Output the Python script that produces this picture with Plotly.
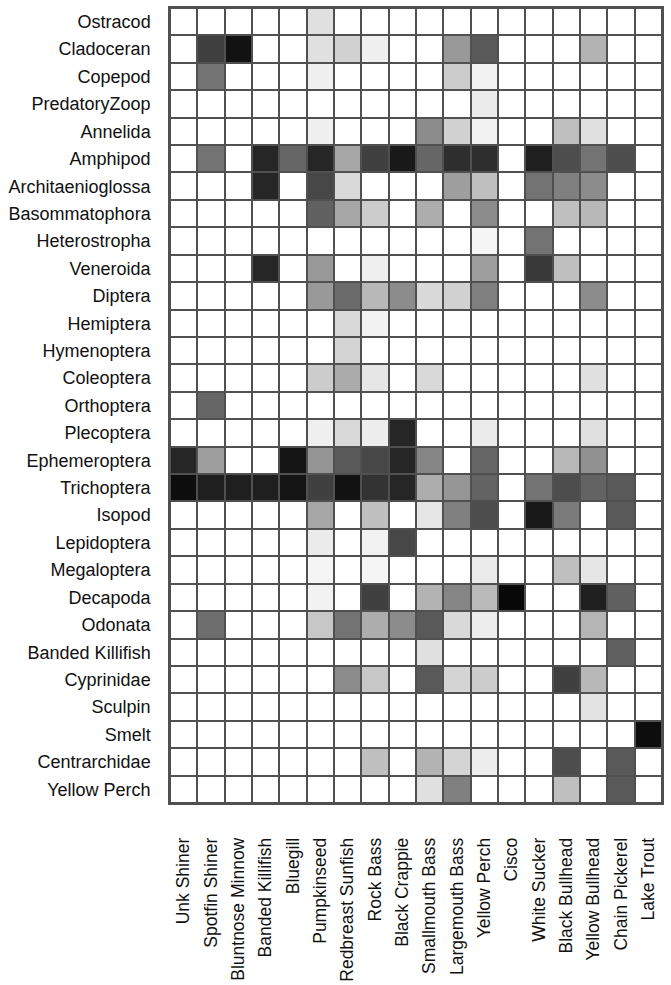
import plotly.graph_objects as go

# Predator fish (columns) and prey groups (rows)
fish = ["Unk Shiner", "Spotfin Shiner", "Bluntnose Minnow", "Banded Killifish",
        "Bluegill", "Pumpkinseed", "Redbreast Sunfish", "Rock Bass",
        "Black Crappie", "Smallmouth Bass", "Largemouth Bass", "Yellow Perch",
        "Cisco", "White Sucker", "Black Bullhead", "Yellow Bullhead",
        "Chain Pickerel", "Lake Trout"]

prey = ["Ostracod", "Cladoceran", "Copepod", "PredatoryZoop", "Annelida",
        "Amphipod", "Architaenioglossa", "Basommatophora", "Heterostropha",
        "Veneroida", "Diptera", "Hemiptera", "Hymenoptera", "Coleoptera",
        "Orthoptera", "Plecoptera", "Ephemeroptera", "Trichoptera", "Isopod",
        "Lepidoptera", "Megaloptera", "Decapoda", "Odonata", "Banded Killifish",
        "Cyprinidae", "Sculpin", "Smelt", "Centrarchidae", "Yellow Perch"]

# Relative diet importance, one row per prey group, columns in `fish` order
importance = [
    [0, 0, 0, 0, 0, .12, 0, 0, 0, 0, 0, 0, 0, 0, 0, 0, 0, 0],
    [0, .75, .93, 0, 0, .12, .18, .06, 0, 0, .40, .65, 0, 0, 0, .30, 0, 0],
    [0, .55, 0, 0, 0, .06, 0, 0, 0, 0, .20, .05, 0, 0, 0, 0, 0, 0],
    [0, 0, 0, 0, 0, 0, 0, 0, 0, 0, 0, .08, 0, 0, 0, 0, 0, 0],
    [0, 0, 0, 0, 0, .06, 0, 0, 0, .45, .18, .05, 0, 0, .25, .12, 0, 0],
    [0, .55, 0, .85, .60, .85, .35, .75, .90, .60, .82, .82, 0, .88, .70, .55, .70, 0],
    [0, 0, 0, .85, 0, .72, .15, 0, 0, 0, .38, .25, 0, .55, .50, .45, 0, 0],
    [0, 0, 0, 0, 0, .62, .35, .20, 0, .32, 0, .45, 0, 0, .25, .28, 0, 0],
    [0, 0, 0, 0, 0, 0, 0, 0, 0, 0, 0, .04, 0, .55, 0, 0, 0, 0],
    [0, 0, 0, .85, 0, .40, 0, .06, 0, 0, 0, .38, 0, .78, .25, 0, 0, 0],
    [0, 0, 0, 0, 0, .40, .58, .28, .45, .15, .18, .50, 0, 0, 0, .45, 0, 0],
    [0, 0, 0, 0, 0, 0, .15, .05, 0, 0, 0, 0, 0, 0, 0, 0, 0, 0],
    [0, 0, 0, 0, 0, 0, .17, 0, 0, 0, 0, 0, 0, 0, 0, 0, 0, 0],
    [0, 0, 0, 0, 0, .20, .33, .10, 0, .15, 0, 0, 0, 0, 0, .12, 0, 0],
    [0, .60, 0, 0, 0, 0, 0, 0, 0, 0, 0, 0, 0, 0, 0, 0, 0, 0],
    [0, 0, 0, 0, 0, .06, .15, .07, .85, 0, 0, .08, 0, 0, 0, .12, 0, 0],
    [.85, .38, 0, 0, .92, .42, .65, .72, .85, .48, 0, .60, 0, 0, .28, .43, 0, 0],
    [.95, .88, .88, .88, .92, .75, .93, .80, .85, .32, .41, .61, 0, .55, .70, .61, .65, 0],
    [0, 0, 0, 0, 0, .35, 0, .25, 0, .10, .50, .70, 0, .90, .52, 0, .65, 0],
    [0, 0, 0, 0, 0, .08, 0, .05, .72, 0, 0, 0, 0, 0, 0, 0, 0, 0],
    [0, 0, 0, 0, 0, .04, 0, .04, 0, 0, 0, .08, 0, 0, .25, .10, 0, 0],
    [0, 0, 0, 0, 0, .05, 0, .75, 0, .30, .48, .27, .97, 0, 0, .88, .62, 0],
    [0, .57, 0, 0, 0, .22, .55, .32, .45, .65, .15, .07, 0, 0, 0, .29, 0, 0],
    [0, 0, 0, 0, 0, 0, 0, 0, 0, .12, 0, 0, 0, 0, 0, 0, .62, 0],
    [0, 0, 0, 0, 0, 0, .45, .22, 0, .65, .17, .20, 0, 0, .75, .28, 0, 0],
    [0, 0, 0, 0, 0, 0, 0, 0, 0, 0, 0, 0, 0, 0, 0, .11, 0, 0],
    [0, 0, 0, 0, 0, 0, 0, 0, 0, 0, 0, 0, 0, 0, 0, 0, 0, .95],
    [0, 0, 0, 0, 0, 0, 0, .25, 0, .30, .17, .07, 0, 0, .70, 0, .65, 0],
    [0, 0, 0, 0, 0, 0, 0, 0, 0, .12, .50, 0, 0, 0, .25, 0, .65, 0],
]

grid_color = "#505050"
font_family = "Liberation Sans, Arial, sans-serif"

fig = go.Figure(go.Heatmap(
    z=importance,
    x=fish,
    y=prey,
    zmin=0,
    zmax=1,
    colorscale=[[0, "#ffffff"], [1, "#000000"]],
    showscale=False,
    xgap=2,
    ygap=2,
    hoverongaps=False,
))

fig.update_layout(
    width=671,
    height=985,
    margin=dict(l=170, r=9, t=8, b=182),
    paper_bgcolor="white",
    plot_bgcolor=grid_color,
    font=dict(family=font_family, color="#111111"),
)

fig.update_xaxes(
    type="category",
    automargin=False,
    tickangle=-90,
    tickfont=dict(size=17.5),
    ticklabelstandoff=26,
    showgrid=False,
    zeroline=False,
    showline=True,
    mirror=True,
    linecolor=grid_color,
    linewidth=1.5,
    ticks="",
)

fig.update_yaxes(
    type="category",
    automargin=False,
    autorange="reversed",
    tickfont=dict(size=18),
    ticklabelstandoff=14,
    showgrid=False,
    zeroline=False,
    showline=True,
    mirror=True,
    linecolor=grid_color,
    linewidth=1.5,
    ticks="",
)

fig.write_html("out.html")
